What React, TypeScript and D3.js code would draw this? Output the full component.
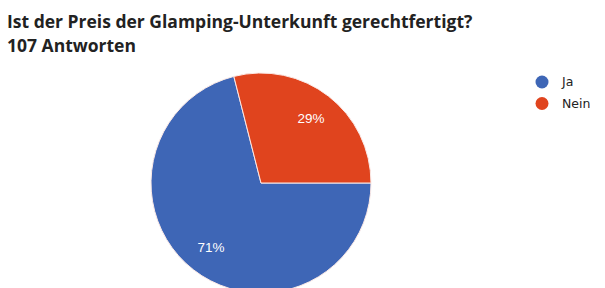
import { useEffect, useRef } from 'react';
import * as d3 from 'd3';

const categories = ['Ja', 'Nein'];
const counts = [76, 31];
const percentLabels = ['71%', '29%'];
const colors = ['#3e66b6', '#e0441e'];
const titleLines = ['Ist der Preis der Glamping-Unterkunft gerechtfertigt?', '107 Antworten'];

const width = 605;
const height = 288;

const App = () => {
  const svgRef = useRef<SVGSVGElement>(null);

  useEffect(() => {
    const svg = d3.select(svgRef.current);
    svg.selectAll('*').remove();

    svg.append('rect').attr('width', width).attr('height', height).attr('fill', '#fff');

    // title block
    svg.selectAll('text.title')
      .data(titleLines)
      .enter()
      .append('text')
      .attr('class', 'title')
      .attr('x', 7)
      .attr('y', (d, i) => 28 + i * 24)
      .attr('font-family', '"Open Sans", sans-serif')
      .attr('font-weight', 'bold')
      .attr('font-size', 17.5)
      .attr('fill', '#222')
      .text(d => d);

    // pie, Google style: starts at 3 o'clock going clockwise
    const radius = 110;
    const cx = 261, cy = 183;
    const pie = d3.pie<number>()
      .sort(null)
      .startAngle(Math.PI / 2)
      .endAngle(Math.PI / 2 + 2 * Math.PI);
    const arcs = pie(counts);
    const arc = d3.arc<d3.PieArcDatum<number>>().innerRadius(0).outerRadius(radius);
    const labelArc = d3.arc<d3.PieArcDatum<number>>().innerRadius(radius * 0.74).outerRadius(radius * 0.74);

    const g = svg.append('g').attr('transform', `translate(${cx},${cy})`);
    g.selectAll('path')
      .data(arcs)
      .enter()
      .append('path')
      .attr('d', arc)
      .attr('fill', (d, i) => colors[i])
      .attr('stroke', '#fbe9e6')
      .attr('stroke-width', 1);

    g.selectAll('text')
      .data(arcs)
      .enter()
      .append('text')
      .attr('transform', d => `translate(${labelArc.centroid(d)})`)
      .attr('text-anchor', 'middle')
      .attr('dy', '0.35em')
      .attr('font-family', 'Arial, "Liberation Sans", sans-serif')
      .attr('font-size', 13.5)
      .attr('fill', '#fff')
      .text((d, i) => percentLabels[i]);

    // legend
    const legend = svg.selectAll('g.legend')
      .data(categories)
      .enter()
      .append('g')
      .attr('class', 'legend')
      .attr('transform', (d, i) => `translate(542,${82 + i * 21.5})`);
    legend.append('circle').attr('r', 6.5).attr('fill', (d, i) => colors[i]);
    legend.append('text')
      .attr('x', 20)
      .attr('dy', '0.35em')
      .attr('font-family', '"DejaVu Sans", sans-serif')
      .attr('font-size', 12.5)
      .attr('fill', '#222')
      .text(d => d);
  }, []);

  return (
    <div style={{ position: 'absolute', left: 0, top: 0 }}>
      <svg ref={svgRef} width={width} height={height} style={{ display: 'block' }} />
    </div>
  );
};

export default App;
